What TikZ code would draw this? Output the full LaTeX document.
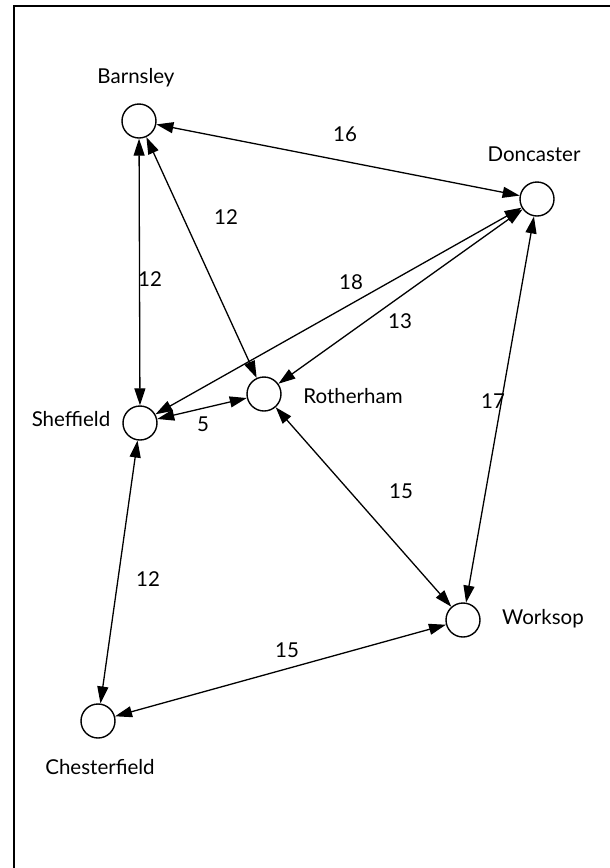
\documentclass[tikz,border=0pt]{standalone}
\usepackage{fontspec}
\setmainfont{Lato}
\usetikzlibrary{arrows.meta}
\begin{document}
\begin{tikzpicture}[x=1pt,y=-1pt,
  town/.style={circle,draw,line width=1.4pt,minimum size=34pt,inner sep=0pt},
  lbl/.style={font=\fontsize{20.5}{24}\selectfont},
  wt/.style={font=\fontsize{20.5}{24}\selectfont},
  link/.style={line width=1.3pt,{Triangle[length=17pt,width=11pt]}-{Triangle[length=17pt,width=11pt]}}]
\useasboundingbox (0,0) rectangle (610,868);
\coordinate (tr) at (610,6);
\coordinate (tl) at (14,6);
\coordinate (bl) at (14,868);
\draw[line width=2pt] (tr) -- (tl) -- (bl);
\node[town] (bar) at (139,121) {};
\node[town] (don) at (537,199) {};
\node[town] (rot) at (264,394) {};
\node[town] (she) at (140,423) {};
\node[town] (wor) at (463,620) {};
\node[town] (che) at (98,721) {};
\node[lbl] (lbar) at (136,78) {Barnsley};
\node[lbl] (ldon) at (534,154) {Doncaster};
\node[lbl] (lrot) at (353,396) {Rotherham};
\node[lbl] (lshe) at (71,419) {Sheffield};
\node[lbl] (lwor) at (543,619) {Worksop};
\node[lbl] (lche) at (100,767) {Chesterfield};
\draw[link] (bar) -- (don);
\draw[link] (bar) -- (she);
\draw[link] (bar) -- (rot);
\draw[link] (don) -- (she);
\draw[link] (don) -- (rot);
\draw[link] (don) -- (wor);
\draw[link] (she) -- (rot);
\draw[link] (rot) -- (wor);
\draw[link] (she) -- (che);
\draw[link] (wor) -- (che);
\node[wt] (w1) at (345,134) {16};
\node[wt] (w2) at (226,217) {12};
\node[wt] (w3) at (150,279) {12};
\node[wt] (w4) at (351,282) {18};
\node[wt] (w5) at (400,321) {13};
\node[wt] (w6) at (203,424) {5};
\node[wt] (w7) at (493,401) {17};
\node[wt] (w8) at (401,491) {15};
\node[wt] (w9) at (148,579) {12};
\node[wt] (w10) at (287,650) {15};
\end{tikzpicture}
\end{document}
